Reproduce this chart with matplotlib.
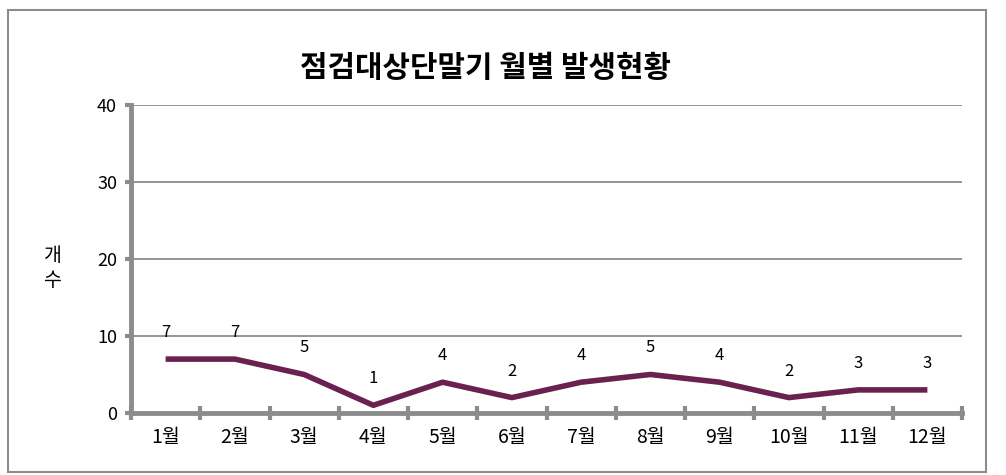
import matplotlib.pyplot as plt
from matplotlib.patches import Rectangle

plt.rcParams['font.family'] = ['Noto Sans CJK KR', 'DejaVu Sans']

# Datos
meses = ['1월', '2월', '3월', '4월', '5월', '6월', '7월', '8월', '9월', '10월', '11월', '12월']
valores = [7, 7, 5, 1, 4, 2, 4, 5, 4, 2, 3, 3]
y_ticks = [0, 10, 20, 30, 40]

gris = '#8c8c8c'
color_linea = '#6b2150'

fig = plt.figure(figsize=(10.06, 4.75), dpi=100)
ax = fig.add_axes([131 / 1006, 1 - 413 / 475, (962 - 131) / 1006, (413 - 105) / 475])

# Borde exterior
fig.patches.append(Rectangle((8 / 1006, 1 - 472 / 475), 978 / 1006, 462 / 475,
                             transform=fig.transFigure, fill=False,
                             edgecolor=gris, linewidth=1.5))

x = [i + 0.5 for i in range(len(meses))]
ax.plot(x, valores, color=color_linea, linewidth=4, solid_capstyle='butt', zorder=3)

for xi, v in zip(x, valores):
    ax.annotate(str(v), (xi, v), xytext=(0, 13), textcoords='offset points',
                ha='center', va='bottom', fontsize=12)

ax.set_xlim(0, 12)
ax.set_ylim(0, 40)
ax.set_yticks(y_ticks)
ax.set_yticklabels([str(t) for t in y_ticks], fontsize=13)
ax.set_xticks(range(13))
ax.set_xticklabels([])
ax.set_xticks(x, minor=True)
ax.set_xticklabels(meses, minor=True, fontsize=14)
ax.tick_params(axis='x', which='minor', length=0, pad=10)
ax.tick_params(axis='x', which='major', direction='inout', length=10, width=3, color=gris)
ax.tick_params(axis='y', direction='out', length=4, width=3, color=gris, pad=6)

for y in y_ticks[1:]:
    ax.axhline(y, color=gris, linewidth=1.3, zorder=1)

for s in ['top', 'right']:
    ax.spines[s].set_visible(False)
for s in ['left', 'bottom']:
    ax.spines[s].set_color(gris)
    ax.spines[s].set_linewidth(3.5)

fig.text(52 / 1006, 1 - 268 / 475, '개\n수', ha='center', va='center', fontsize=14, linespacing=1.2)
fig.text(486 / 1006, 1 - 68 / 475, '점검대상단말기 월별 발생현황', ha='center', va='center',
         fontsize=21.5, fontweight='bold')

fig.savefig('out.png', dpi=100)
